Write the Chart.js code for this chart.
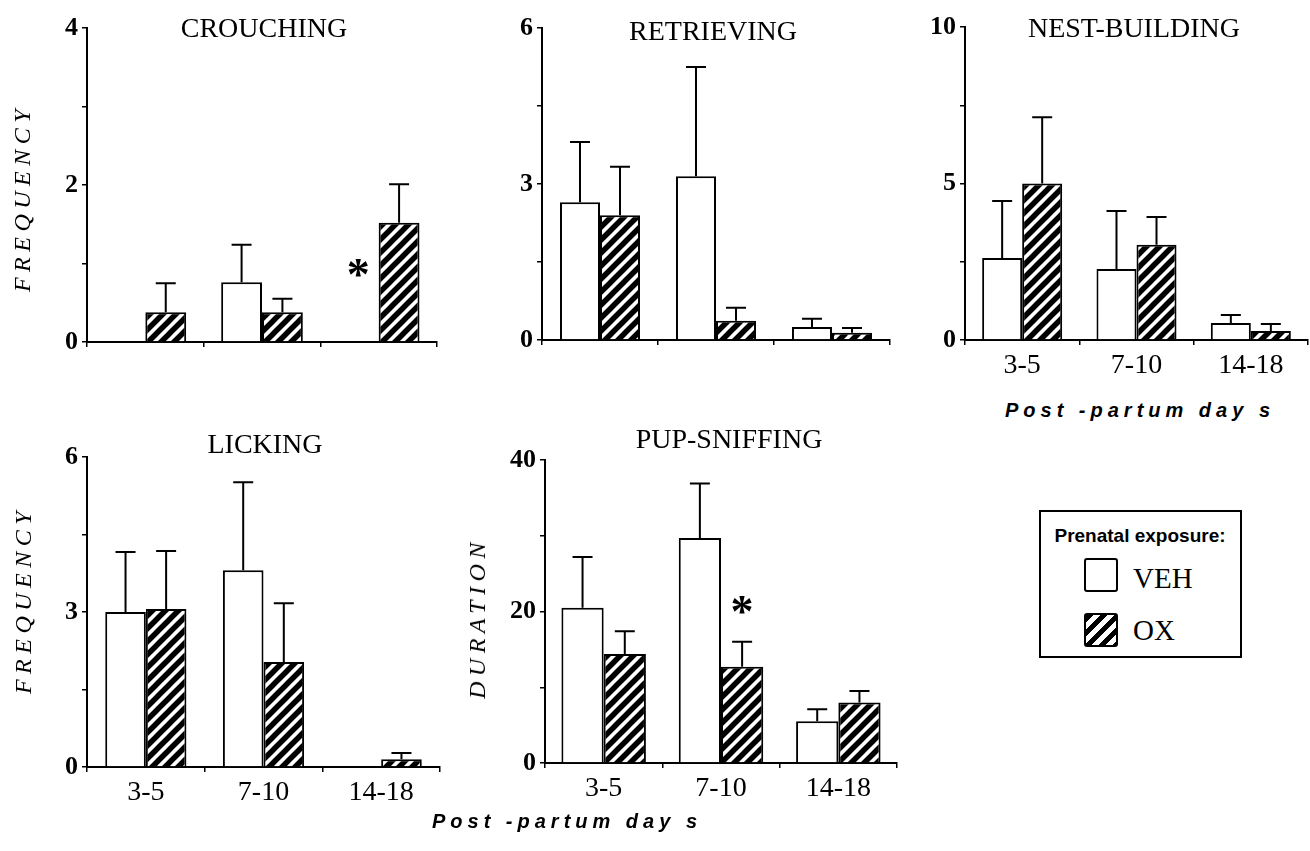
<!DOCTYPE html>
<html><head><meta charset="utf-8">
<script src="https://cdn.jsdelivr.net/npm/chart.js@4.4.0/dist/chart.umd.min.js"></script>
<style>
html,body{margin:0;padding:0;background:#fff;}
body{width:1310px;height:851px;position:relative;overflow:hidden;}
canvas{position:absolute;}
.t{position:absolute;font-family:"Liberation Serif","DejaVu Serif",serif;font-size:28px;color:#000;white-space:nowrap;transform:translate(-50%,-50%);line-height:1;}
.yt{position:absolute;font-family:"Liberation Serif",serif;font-style:italic;font-size:24px;letter-spacing:5.5px;color:#000;transform:translate(-50%,-50%) rotate(-90deg);white-space:nowrap;line-height:1;}
.xt{position:absolute;font-family:"Liberation Sans",Arial,sans-serif;font-weight:bold;font-style:italic;font-size:20px;letter-spacing:5px;color:#000;transform:translate(-50%,-50%);white-space:nowrap;line-height:1;}
#legend{position:absolute;left:1039px;top:510px;width:203px;height:148px;border:2px solid #000;box-sizing:border-box;}
.lt{position:absolute;font-family:"Liberation Sans",Arial,sans-serif;font-weight:bold;font-size:19px;white-space:nowrap;line-height:1;transform:translate(-50%,-50%);}
.li{position:absolute;font-family:"Liberation Serif",serif;font-size:29px;white-space:nowrap;line-height:1;transform:translateY(-50%);}
.box{position:absolute;width:34px;height:34px;box-sizing:border-box;border:2.5px solid #000;border-radius:3px;background:#fff;}
.hatch{background:repeating-linear-gradient(135deg,#000 0 5px,#fff 5px 10px);}
</style>
</head><body>
<canvas id="c1"></canvas><canvas id="c2"></canvas><canvas id="c3"></canvas><canvas id="c4"></canvas><canvas id="c5"></canvas>
<div class="t" style="left:264px;top:28px">CROUCHING</div>
<div class="t" style="left:713px;top:31px">RETRIEVING</div>
<div class="t" style="left:1134px;top:28px">NEST-BUILDING</div>
<div class="t" style="left:265px;top:444px">LICKING</div>
<div class="t" style="left:729px;top:439px">PUP-SNIFFING</div>
<div class="yt" style="left:22px;top:198px">FREQUENCY</div>
<div class="yt" style="left:23px;top:600px">FREQUENCY</div>
<div class="yt" style="left:477px;top:618px">DURATION</div>
<div class="xt" style="left:1140px;top:410px">Post -partum day s</div>
<div class="xt" style="left:567px;top:821px">Post -partum day s</div>
<div id="legend"></div>
<div class="lt" style="left:1140px;top:535px">Prenatal exposure:</div>
<div class="box" style="left:1084px;top:558px"></div>
<div class="li" id="lg0" style="left:1133px;top:578px"></div>
<div class="box hatch" style="left:1084px;top:613px"></div>
<div class="li" id="lg1" style="left:1133px;top:630px"></div>
<script>
const categories = ['3-5', '7-10', '14-18'];
const seriesNames = ['VEH', 'OX'];

const crouchVeh = [0, 0.76, 0];
const crouchVehErr = [0, 0.48, 0];
const crouchOx = [0.38, 0.38, 1.52];
const crouchOxErr = [0.37, 0.17, 0.49];
const crouchTicks = [0, 2, 4];

const retrVeh = [2.65, 3.15, 0.25];
const retrVehErr = [1.16, 2.10, 0.16];
const retrOx = [2.40, 0.37, 0.14];
const retrOxErr = [0.93, 0.25, 0.09];
const retrTicks = [0, 3, 6];

const nestVeh = [2.62, 2.27, 0.54];
const nestVehErr = [1.82, 1.85, 0.26];
const nestOx = [5.0, 3.04, 0.29];
const nestOxErr = [2.12, 0.89, 0.22];
const nestTicks = [0, 5, 10];

const lickVeh = [3.0, 3.81, 0];
const lickVehErr = [1.16, 1.70, 0];
const lickOx = [3.06, 2.03, 0.15];
const lickOxErr = [1.12, 1.14, 0.12];
const lickTicks = [0, 3, 6];

const pupVeh = [20.5, 29.7, 5.5];
const pupVehErr = [6.7, 7.2, 1.6];
const pupOx = [14.4, 12.7, 8.0];
const pupOxErr = [3.0, 3.3, 1.5];
const pupTicks = [0, 20, 40];

document.getElementById('lg0').textContent = seriesNames[0];
document.getElementById('lg1').textContent = seriesNames[1];

function makeHatch() {
  const s = 13, c = document.createElement('canvas');
  c.width = s; c.height = s;
  const g = c.getContext('2d');
  g.fillStyle = '#fff'; g.fillRect(0, 0, s, s);
  g.strokeStyle = '#000'; g.lineWidth = 5.5; g.lineCap = 'square';
  g.beginPath();
  g.moveTo(-s, s); g.lineTo(s, -s);
  g.moveTo(0, s); g.lineTo(s, 0);
  g.moveTo(0, 2 * s); g.lineTo(2 * s, 0);
  g.stroke();
  return g.createPattern(c, 'repeat');
}
const hatch = makeHatch();

const errPlugin = {
  id: 'errs',
  afterDatasetsDraw(chart) {
    const ctx = chart.ctx, ys = chart.scales.y;
    chart.data.datasets.forEach((ds, i) => {
      const meta = chart.getDatasetMeta(i);
      meta.data.forEach((bar, j) => {
        const e = ds.err[j];
        if (!e) return;
        const v = ds.data[j];
        const y0 = ys.getPixelForValue(v), y1 = ys.getPixelForValue(v + e);
        ctx.save();
        ctx.strokeStyle = '#000'; ctx.lineWidth = 2;
        ctx.beginPath();
        ctx.moveTo(bar.x, y0); ctx.lineTo(bar.x, y1);
        ctx.moveTo(bar.x - 10, y1); ctx.lineTo(bar.x + 10, y1);
        ctx.stroke();
        ctx.restore();
      });
    });
  }
};

const starPlugin = {
  id: 'stars',
  afterDatasetsDraw(chart, args, opts) {
    const items = opts.items || [];
    const ctx = chart.ctx, ys = chart.scales.y;
    items.forEach(it => {
      const bar = chart.getDatasetMeta(it.ds).data[it.cat];
      const x = bar.x, y = ys.getPixelForValue(it.value);
      ctx.save();
      ctx.font = 'bold 46px "Liberation Serif"';
      ctx.fillStyle = '#000';
      ctx.textAlign = 'center';
      ctx.textBaseline = 'alphabetic';
      const m = ctx.measureText('*');
      ctx.fillText('*', x, y + m.actualBoundingBoxAscent - (m.actualBoundingBoxAscent + m.actualBoundingBoxDescent) / 2);
      ctx.restore();
    });
  }
};

function makeChart(id, area, cfg) {
  const PL = 10, PT = 20, PR = 12, PB = 5, YW = 50, XH = 45;
  const cv = document.getElementById(id);
  const w = (area.r - area.l) + PL + YW + PR;
  const h = (area.b - area.t) + PT + XH + PB;
  cv.width = w; cv.height = h;
  cv.style.width = w + 'px'; cv.style.height = h + 'px';
  cv.style.left = (area.l - PL - YW) + 'px';
  cv.style.top = (area.t - PT) + 'px';
  return new Chart(cv, {
    type: 'bar',
    data: {
      labels: categories,
      datasets: [
        { label: seriesNames[0], data: cfg.veh, err: cfg.vehErr, backgroundColor: '#fff', borderColor: '#000', borderWidth: 2,
          barPercentage: 1, categoryPercentage: cfg.cp },
        { label: seriesNames[1], data: cfg.ox, err: cfg.oxErr, backgroundColor: hatch, borderColor: '#000', borderWidth: 2,
          barPercentage: 1, categoryPercentage: cfg.cp }
      ]
    },
    options: {
      responsive: false,
      animation: false,
      devicePixelRatio: 1,
      layout: { padding: { left: PL, top: PT, right: PR, bottom: PB } },
      plugins: { legend: { display: false }, tooltip: { enabled: false }, title: { display: false },
        stars: { items: cfg.stars || [] } },
      scales: {
        x: {
          grid: { display: true, drawOnChartArea: false, drawTicks: true, tickLength: 5, color: '#000', lineWidth: 1.5, offset: true },
          border: { display: true, color: '#000', width: 2 },
          ticks: { display: cfg.showX, font: { family: 'Liberation Serif', size: 28 }, color: '#000', padding: 4, maxRotation: 0, autoSkip: false },
          afterFit(s) { s.height = XH; s.paddingLeft = 0; s.paddingRight = 0; }
        },
        y: {
          min: 0, max: cfg.max,
          grid: { display: true, drawOnChartArea: false, drawTicks: true, tickLength: 5, color: '#000', lineWidth: 1.5 },
          border: { display: true, color: '#000', width: 2 },
          ticks: { stepSize: cfg.step, autoSkip: false, color: '#000', padding: 4,
            font: { family: 'Liberation Serif', size: 26, weight: 'bold' },
            callback: v => cfg.majors.includes(v) ? String(v) : '' },
          afterFit(s) { s.width = YW; s.paddingTop = 0; s.paddingBottom = 0; }
        }
      }
    },
    plugins: [errPlugin, starPlugin]
  });
}

makeChart('c1', { l: 87, t: 28, r: 437, b: 342 }, { veh: crouchVeh, vehErr: crouchVehErr, ox: crouchOx, oxErr: crouchOxErr,
  max: 4, step: 1, majors: crouchTicks, showX: false, cp: 0.70, stars: [{ ds: 0, cat: 2, value: 0.94 }] });
makeChart('c2', { l: 542, t: 28, r: 890, b: 340 }, { veh: retrVeh, vehErr: retrVehErr, ox: retrOx, oxErr: retrOxErr,
  max: 6, step: 1.5, majors: retrTicks, showX: false, cp: 0.69 });
makeChart('c3', { l: 965, t: 27, r: 1308, b: 340 }, { veh: nestVeh, vehErr: nestVehErr, ox: nestOx, oxErr: nestOxErr,
  max: 10, step: 2.5, majors: nestTicks, showX: true, cp: 0.70 });
makeChart('c4', { l: 87, t: 457, r: 440, b: 767 }, { veh: lickVeh, vehErr: lickVehErr, ox: lickOx, oxErr: lickOxErr,
  max: 6, step: 1.5, majors: lickTicks, showX: true, cp: 0.69 });
makeChart('c5', { l: 545, t: 460, r: 897, b: 763 }, { veh: pupVeh, vehErr: pupVehErr, ox: pupOx, oxErr: pupOxErr,
  max: 40, step: 10, majors: pupTicks, showX: true, cp: 0.72, stars: [{ ds: 1, cat: 1, value: 20.8 }] });
</script>
</body></html>
